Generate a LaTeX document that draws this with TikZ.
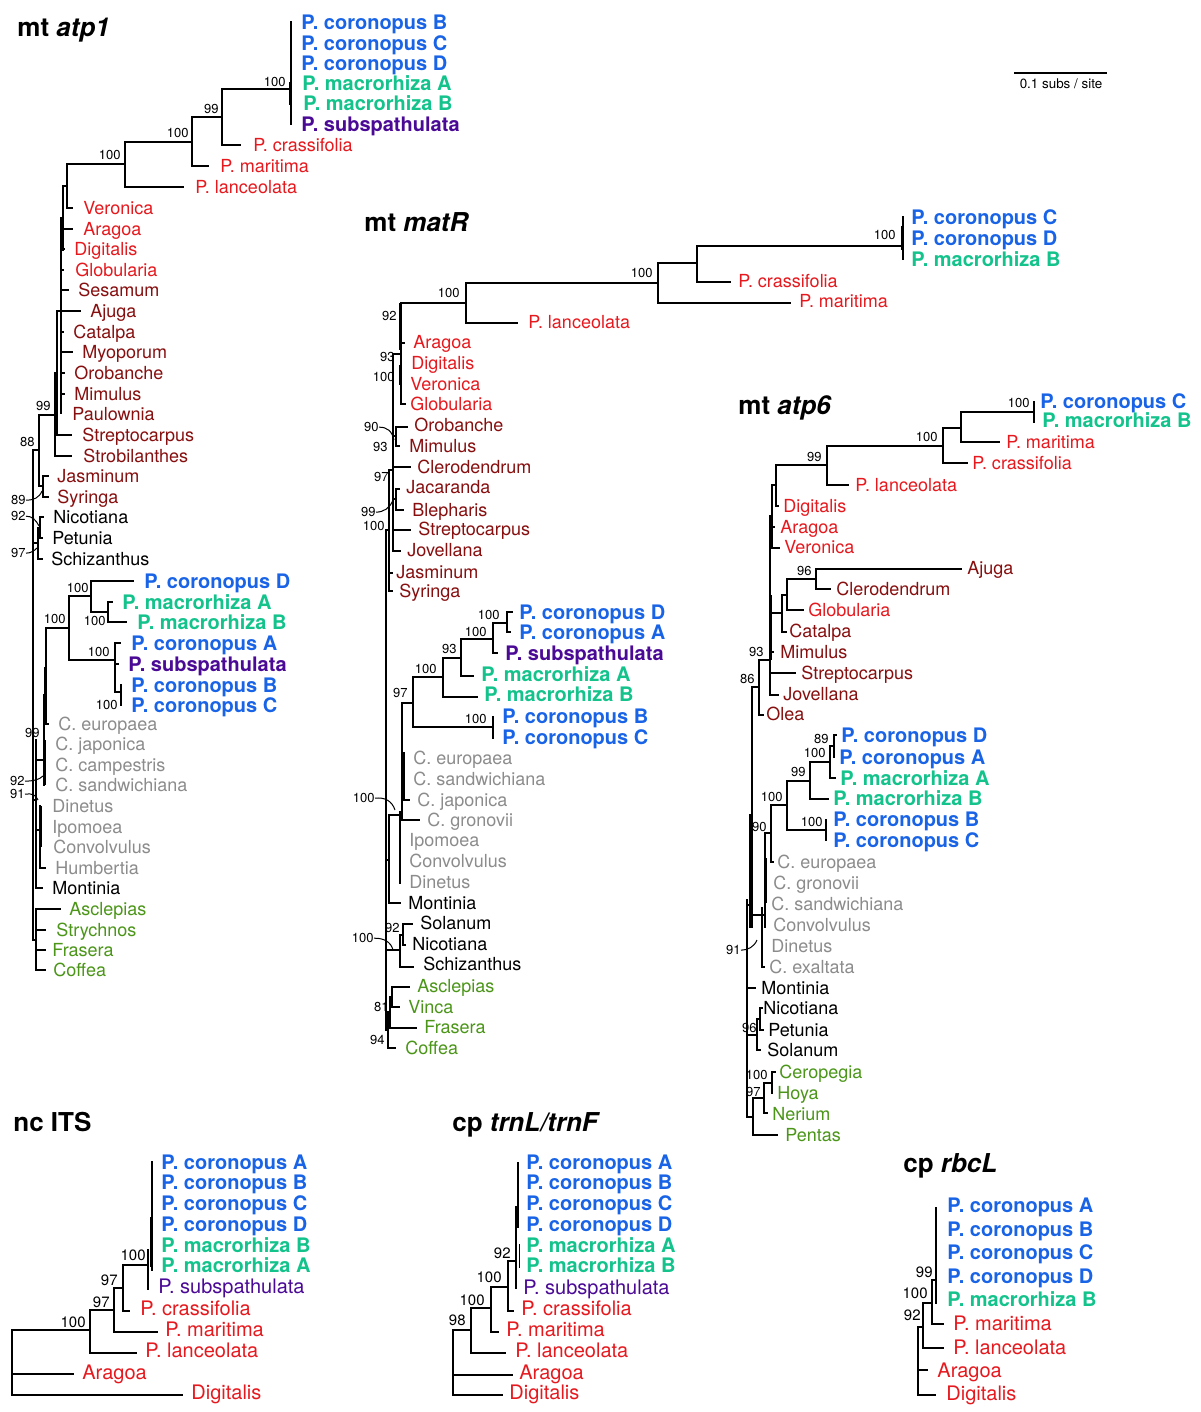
\documentclass[tikz,border=0pt]{standalone}
\usepackage{fontspec}
\setmainfont{TeX Gyre Heros}
\definecolor{cblue}{RGB}{25,100,230}
\definecolor{cgreen}{RGB}{20,195,140}
\definecolor{cpurple}{RGB}{75,10,150}
\definecolor{cred}{RGB}{230,25,30}
\definecolor{cdred}{RGB}{135,15,15}
\definecolor{cgray}{RGB}{140,140,140}
\definecolor{cgreentwo}{RGB}{75,150,25}
\newcounter{nd}
\newcommand\brH[3]{\draw[br] (#2,#1) -- (#3,#1);}
\newcommand\brV[3]{\draw[br] (#1,#2) -- (#1,#3);}
\newcommand\brT[3]{\draw[brt] (#1,#2) -- (#1,#3);}
\newcommand\Lf[4]{\stepcounter{nd}\node[#3] (lf\thend) at (#1,#2) {#4};}
\newcommand\Bs[3]{\stepcounter{nd}\node[Bsb] (bs\thend) at (#1,#2) {#3};}
\newcommand\Bt[3]{\stepcounter{nd}\node[Bss] (bt\thend) at (#1,#2) {#3};}
\newcommand\BsN[4]{\node[Bsb] (#1) at (#2,#3) {#4};}
\tikzset{
  br/.style={line width=0.7pt, line cap=rect},
  brt/.style={line width=1.5pt},
  ld/.style={line width=0.5pt},
  Lbase/.style={anchor=base west, inner sep=0pt},
  Lreg/.style={Lbase, font=\fontsize{9}{10}\selectfont, yshift=-3.25pt},
  Lbold/.style={Lbase, font=\fontsize{10}{11}\selectfont\bfseries, yshift=-3.6pt},
  Lcor/.style={Lbold, text=cblue},
  Lmac/.style={Lbold, text=cgreen},
  Lsub/.style={Lbold, text=cpurple},
  Lrd/.style={Lreg, text=cred},
  Ldr/.style={Lreg, text=cdred},
  Lgy/.style={Lreg, text=cgray},
  Lgn/.style={Lreg, text=cgreentwo},
  Lbk/.style={Lreg, text=black},
  Sreg/.style={Lbase, font=\fontsize{10}{11}\selectfont, yshift=-3.6pt},
  Scor/.style={Lbold, text=cblue},
  Smac/.style={Lbold, text=cgreen},
  Ssub/.style={Sreg, text=cpurple},
  Srd/.style={Sreg, text=cred},
  Bsb/.style={anchor=base east, inner sep=0pt, font=\fontsize{6.5}{7}\selectfont, yshift=-2.35pt},
  Bss/.style={anchor=base east, inner sep=0pt, font=\fontsize{7.5}{8}\selectfont, yshift=-2.7pt},
  Ttl/.style={anchor=base west, inner sep=0pt, font=\fontsize{13}{14}\selectfont\bfseries, yshift=-4.7pt},
}
\begin{document}
\begin{tikzpicture}[x=0.5pt,y=-0.5pt]
\useasboundingbox (0,0) rectangle (1200,1412);
\fill[white] (0,0) rectangle (1200,1412);

%%%%%%%%%%%%%%%% mt atp1
\node[Ttl] (t1) at (17,27) {mt \textit{atp1}};
\brV{291}{22}{124}
\brT{290}{82}{105}
\Lf{301}{22}{Lcor}{P. coronopus B}
\Lf{301}{43}{Lcor}{P. coronopus C}
\Lf{301}{63}{Lcor}{P. coronopus D}
\Lf{302}{83}{Lmac}{P. macrorhiza A}
\Lf{303}{103}{Lmac}{P. macrorhiza B}
\Lf{301}{124}{Lsub}{P. subspathulata}
\brH{89}{222}{291}
\Bs{286}{82}{100}
\brV{222}{89}{145}
\brH{145}{222}{240}
\Lf{253}{145}{Lrd}{P. crassifolia}
\Bs{219}{109}{99}
\brH{117}{192}{222}
\brV{192}{117}{166}
\brH{166}{192}{208}
\Lf{220}{166}{Lrd}{P. maritima}
\Bs{189}{133}{100}
\brH{142}{125}{192}
\brV{125}{142}{187}
\brH{187}{125}{183}
\Lf{195}{187}{Lrd}{P. lanceolata}
\Bs{121}{155}{100}
\brH{164}{67}{125}
\brV{67}{164}{208}
\brH{208}{67}{72}
\Lf{83}{208}{Lrd}{Veronica}
\brV{63}{186}{250}
\brH{186}{63}{67}
\brV{61}{218}{413}
\brH{229}{63}{72}
\Lf{83}{229}{Lrd}{Aragoa}
\brH{249}{61}{64}
\Lf{74}{249}{Lrd}{Digitalis}
\brH{270}{61}{63}
\Lf{75}{270}{Lrd}{Globularia}
\brH{290}{61}{68}
\Lf{78}{290}{Ldr}{Sesamum}
\brH{311}{57}{80}
\Lf{90}{311}{Ldr}{Ajuga}
\brH{332}{61}{63}
\Lf{73}{332}{Ldr}{Catalpa}
\brH{352}{61}{72}
\Lf{82}{352}{Ldr}{Myoporum}
\brH{373}{61}{64}
\Lf{74}{373}{Ldr}{Orobanche}
\brH{394}{61}{64}
\Lf{74}{394}{Ldr}{Mimulus}
\Lf{72}{414}{Ldr}{Paulownia}
\brV{57}{311}{435}
\brH{435}{57}{71}
\Lf{82}{435}{Ldr}{Streptocarpus}
\brV{55}{373}{456}
\brH{456}{55}{71}
\Lf{83}{456}{Ldr}{Strobilanthes}
\brH{415}{39}{55}
\Bs{51}{406}{99}
\brV{39}{415}{486}
\brH{450}{33}{39}
\Bs{35}{442}{88}
\brV{43}{476}{497}
\brH{476}{43}{48}
\brH{497}{43}{48}
\brH{486}{39}{43}
\Lf{57}{476}{Ldr}{Jasminum}
\Lf{57}{497}{Ldr}{Syringa}
\BsN{a1b89}{26}{500}{89}
\draw[ld] (a1b89.east) .. controls (34,500) and (39,498) .. (42,491);
\brV{40}{517}{538}
\brH{517}{40}{43}
\brH{538}{40}{42}
\brV{38}{528}{559}
\brH{528}{38}{40}
\brH{559}{38}{42}
\brH{543}{33}{38}
\Lf{53}{517}{Lbk}{Nicotiana}
\Lf{52}{538}{Lbk}{Petunia}
\Lf{51}{559}{Lbk}{Schizanthus}
\BsN{a1b92}{26}{516}{92}
\draw[ld] (a1b92.east) .. controls (32,516) and (36,520) .. (39,526);
\BsN{a1b97}{26}{553}{97}
\draw[ld] (a1b97.east) .. controls (31,553) and (34,551) .. (37,548);
% Plantago clade 2
\brH{628}{46}{69}
\Bs{66}{619}{100}
\brV{69}{596}{660}
\brH{596}{69}{91}
\Bs{89}{588}{100}
\brV{91}{581}{612}
\brH{581}{91}{133}
\Lf{144}{581}{Lcor}{P. coronopus D}
\brH{612}{91}{108}
\brV{108}{602}{622}
\brH{602}{108}{112}
\Lf{122}{602}{Lmac}{P. macrorhiza A}
\brH{622}{108}{126}
\Lf{137}{622}{Lmac}{P. macrorhiza B}
\Bs{106}{621}{100}
\brH{660}{69}{115}
\Bs{110}{652}{100}
\brV{115}{643}{692}
\brH{643}{115}{120}
\Lf{131}{643}{Lcor}{P. coronopus A}
\brH{664}{115}{118}
\Lf{128}{664}{Lsub}{P. subspathulata}
\brH{692}{115}{121}
\brV{121}{685}{705}
\Lf{131}{685}{Lcor}{P. coronopus B}
\Lf{131}{705}{Lcor}{P. coronopus C}
\Bs{118}{705}{100}
% Cuscuta etc.
\brV{46}{628}{724}
\brT{45.5}{667}{724}
\brH{724}{45}{48}
\brV{44}{695}{785}
\brT{44}{740}{785}
\brH{695}{44}{46}
\Lf{58}{724}{Lgy}{C. europaea}
\Lf{55}{744}{Lgy}{C. japonica}
\Lf{55}{765}{Lgy}{C. campestris}
\Lf{55}{785}{Lgy}{C. sandwichiana}
\Bs{40}{733}{99}
\brH{760}{36}{44}
\BsN{a1c92}{25}{781}{92}
\draw[ld] (a1c92.east) .. controls (33,781) and (39,780) .. (43,776);
\BsN{a1c91}{25}{794}{91}
\draw[ld] (a1c91.east) .. controls (32,793) and (36,795) .. (38,800);
\brV{40}{806}{868}
\brT{40.5}{806}{847}
\brH{868}{40}{45}
\brH{830}{36}{40}
\Lf{52}{806}{Lgy}{Dinetus}
\Lf{52}{827}{Lgy}{Ipomoea}
\Lf{53}{847}{Lgy}{Convolvulus}
\Lf{55}{868}{Lgy}{Humbertia}
\brV{36}{740}{888}
\brH{888}{36}{42}
\Lf{52}{888}{Lbk}{Montinia}
\brH{800}{33}{36}
\brV{36}{909}{970}
\brH{909}{36}{60}
\brH{930}{36}{45}
\brH{950}{36}{45}
\brH{970}{36}{45}
\brH{940}{33}{36}
\Lf{69}{909}{Lgn}{Asclepias}
\Lf{56}{930}{Lgn}{Strychnos}
\Lf{52}{950}{Lgn}{Frasera}
\Lf{53}{970}{Lgn}{Coffea}
\brV{33}{450}{940}
% scale bar
\draw[br] (1015,73) -- (1106,73);
\node[inner sep=0pt, font=\fontsize{6.7}{7}\selectfont] (scl) at (1061,84) {0.1 subs / site};

%%%%%%%%%%%%%%%% mt matR
\node[Ttl] (t2) at (364,222) {mt \textit{matR}};
\brV{903}{217}{259}
\brT{902.5}{226}{250}
\Lf{911}{217}{Lcor}{P. coronopus C}
\Lf{911}{238}{Lcor}{P. coronopus D}
\Lf{911}{259}{Lmac}{P. macrorhiza B}
\Bs{896}{235}{100}
\brH{246}{697}{903}
\brV{697}{246}{282}
\brH{282}{697}{730}
\Lf{738}{281}{Lrd}{P. crassifolia}
\brH{263}{658}{697}
\Bs{653}{273}{100}
\brV{658}{263}{303}
\brH{303}{658}{790}
\Lf{799}{301}{Lrd}{P. maritima}
\brH{283}{466}{658}
\Bs{460}{293}{100}
\brV{466}{283}{323}
\brH{323}{466}{517}
\Lf{528}{322}{Lrd}{P. lanceolata}
\brH{303}{401}{466}
\Bs{397}{316}{92}
\brV{401}{303}{404}
\brT{400.5}{303}{350}
\brT{400.5}{365}{385}
\brH{343}{401}{404}
\Lf{413}{342}{Lrd}{Aragoa}
\Lf{411}{363}{Lrd}{Digitalis}
\Bs{395}{357}{93}
\Lf{410}{384}{Lrd}{Veronica}
\Bs{395}{377}{100}
\brH{404}{401}{405}
\Lf{410}{404}{Lrd}{Globularia}
\brH{354}{393}{401}
\brV{393}{354}{551}
\brV{396}{427}{446}
\brH{427}{396}{407}
\brH{446}{396}{399}
\brH{436}{393}{396}
\Lf{414}{425}{Ldr}{Orobanche}
\Lf{409}{446}{Ldr}{Mimulus}
\BsN{m90}{379}{427}{90}
\draw[ld] (m90.east) .. controls (387,427) and (392,431) .. (394,440);
\Bs{388}{447}{93}
\brH{467}{393}{410}
\Lf{417}{467}{Ldr}{Clerodendrum}
\brV{396}{489}{510}
\brH{489}{396}{399}
\brH{510}{396}{403}
\brH{499}{393}{396}
\Lf{406}{487}{Ldr}{Jacaranda}
\Lf{412}{510}{Ldr}{Blepharis}
\Bs{389}{477}{97}
\BsN{m99}{376}{512}{99}
\draw[ld] (m99.east) .. controls (384,512) and (390,508) .. (393,500);
\Bs{385}{526}{100}
\brH{530}{393}{410}
\Lf{418}{529}{Ldr}{Streptocarpus}
\brH{551}{393}{400}
\Lf{407}{550}{Ldr}{Jovellana}
\brV{389}{470}{591}
\brH{470}{389}{393}
\brH{573}{389}{392}
\brH{591}{389}{392}
\Lf{396}{572}{Ldr}{Jasminum}
\Lf{399}{591}{Ldr}{Syringa}
\brV{386}{530}{1030}
\brH{530}{386}{389}
% Plantago clade 2
\brV{507}{612}{632}
\brH{612}{507}{512}
\brH{632}{507}{510}
\Lf{519}{612}{Lcor}{P. coronopus D}
\Lf{519}{632}{Lcor}{P. coronopus A}
\Bs{500}{615}{100}
\brH{623}{493}{507}
\brV{493}{623}{653}
\Bs{487}{632}{100}
\brH{653}{493}{497}
\Lf{505}{653}{Lsub}{P. subspathulata}
\brH{639}{461}{493}
\brV{461}{639}{676}
\Bs{457}{649}{93}
\brH{676}{461}{473}
\Lf{481}{674}{Lmac}{P. macrorhiza A}
\brH{658}{443}{461}
\brV{443}{658}{697}
\Bs{437}{669}{100}
\brH{697}{443}{477}
\Lf{484}{694}{Lmac}{P. macrorhiza B}
\brH{677}{413}{443}
\brV{413}{677}{727}
\Bs{408}{693}{97}
\brH{727}{413}{493}
\brV{493}{717}{738}
\Bs{487}{719}{100}
\Lf{502}{716}{Lcor}{P. coronopus B}
\Lf{502}{737}{Lcor}{P. coronopus C}
\brH{703}{402}{413}
\brV{402}{703}{820}
\brT{403}{752}{800}
\brH{800}{402}{409}
\brH{820}{402}{419}
\Lf{413}{758}{Lgy}{C. europaea}
\Lf{413}{779}{Lgy}{C. sandwichiana}
\Lf{417}{800}{Lgy}{C. japonica}
\Lf{427}{820}{Lgy}{C. gronovii}
\brV{400}{812}{883}
\brH{812}{400}{402}
\Lf{409}{840}{Lgy}{Ipomoea}
\Lf{409}{861}{Lgy}{Convolvulus}
\Lf{409}{882}{Lgy}{Dinetus}
\BsN{m100}{375}{798}{100}
\draw[ld] (m100.east) .. controls (385,797) and (392,801) .. (395,810);
\brV{389}{815}{903}
\brH{815}{389}{400}
\brH{903}{389}{400}
\Lf{408}{903}{Lbk}{Montinia}
\brH{860}{386}{389}
\brV{403}{924}{945}
\brH{924}{403}{412}
\brH{945}{403}{405}
\Lf{420}{923}{Lbk}{Solanum}
\Lf{412}{944}{Lbk}{Nicotiana}
\brV{400}{935}{967}
\brH{935}{400}{403}
\brH{967}{400}{413}
\Lf{423}{964}{Lbk}{Schizanthus}
\Bs{400}{928}{92}
\BsN{m100b}{374}{938}{100}
\draw[ld] (m100b.east) .. controls (384,938) and (391,942) .. (393,950);
\brH{950}{386}{400}
\brV{392}{987}{1007}
\brH{987}{392}{409}
\brH{1007}{392}{399}
\Lf{417}{986}{Lgn}{Asclepias}
\Lf{408}{1007}{Lgn}{Vinca}
\brV{390}{997}{1028}
\brH{997}{390}{392}
\brH{1028}{390}{416}
\Lf{424}{1027}{Lgn}{Frasera}
\brV{388}{1012}{1048}
\brH{1012}{388}{390}
\brH{1048}{388}{395}
\Lf{405}{1048}{Lgn}{Coffea}
\Bs{389}{1007}{81}
\Bs{385}{1040}{94}
\brH{1030}{386}{388}

%%%%%%%%%%%%%%%% mt atp6
\node[Ttl] (t3) at (738,405) {mt \textit{atp6}};
\brV{1034}{402}{422}
\Lf{1040}{401}{Lcor}{P. coronopus C}
\Lf{1042}{420}{Lmac}{P. macrorhiza B}
\Bs{1030}{403}{100}
\brH{412}{961}{1034}
\brV{961}{412}{442}
\brH{442}{961}{999}
\Lf{1006}{442}{Lrd}{P. maritima}
\Bs{938}{437}{100}
\brH{428}{943}{961}
\brV{943}{428}{463}
\brH{463}{943}{967}
\Lf{972}{463}{Lrd}{P. crassifolia}
\Bs{822}{457}{99}
\brH{446}{827}{943}
\brV{827}{446}{485}
\brH{485}{827}{848}
\Lf{855}{485}{Lrd}{P. lanceolata}
\brH{465}{776}{827}
\brV{776}{465}{506}
\brH{506}{776}{778}
\Lf{783}{506}{Lrd}{Digitalis}
\brV{772}{485}{548}
\brH{485}{772}{776}
\brH{527}{772}{774}
\Lf{780}{527}{Lrd}{Aragoa}
\brH{548}{772}{779}
\Lf{784}{547}{Lrd}{Veronica}
\brV{770}{516}{695}
\brT{770}{595}{660}
\brH{516}{770}{772}
\brH{569}{816}{961}
\Lf{967}{568}{Ldr}{Ajuga}
\brV{816}{569}{589}
\brH{589}{816}{830}
\Lf{836}{589}{Ldr}{Clerodendrum}
\Bs{812}{571}{96}
\brH{579}{787}{816}
\brV{787}{579}{610}
\brH{610}{787}{803}
\Lf{808}{610}{Lrd}{Globularia}
\brH{595}{782}{787}
\brV{782}{595}{632}
\brH{632}{782}{786}
\Lf{789}{631}{Ldr}{Catalpa}
\brH{613}{770}{782}
\brH{652}{770}{773}
\Lf{780}{652}{Ldr}{Mimulus}
\Bs{764}{652}{93}
\brH{673}{770}{795}
\Lf{801}{673}{Ldr}{Streptocarpus}
\brH{695}{770}{778}
\Lf{783}{694}{Ldr}{Jovellana}
\brH{660}{759}{770}
\brV{759}{660}{715}
\Bs{755}{679}{86}
\brH{715}{759}{763}
\Lf{766}{714}{Ldr}{Olea}
\brH{687}{752}{759}
\brV{752}{687}{927}
\brV{750}{815}{927}
% Plantago clade 2
\brV{834}{735}{757}
\brH{735}{834}{836}
\Lf{841}{735}{Lcor}{P. coronopus D}
\Lf{839}{757}{Lcor}{P. coronopus A}
\Bs{829}{739}{89}
\brH{746}{830}{834}
\brV{830}{746}{778}
\brH{778}{830}{835}
\Lf{840}{778}{Lmac}{P. macrorhiza A}
\Bs{826}{753}{100}
\brH{762}{810}{830}
\brV{810}{762}{799}
\brH{799}{810}{828}
\Lf{833}{798}{Lmac}{P. macrorhiza B}
\Bs{806}{772}{99}
\brH{781}{787}{810}
\brV{787}{781}{830}
\Bs{783}{797}{100}
\brH{830}{787}{826}
\brV{826}{820}{840}
\Bs{823}{822}{100}
\Lf{833}{819}{Lcor}{P. coronopus B}
\Lf{833}{840}{Lcor}{P. coronopus C}
\brH{805}{771}{787}
\Bs{767}{827}{90}
\brV{771}{805}{862}
\brH{862}{771}{773}
\Lf{777}{862}{Lgy}{C. europaea}
\brV{765}{833}{927}
\brT{765}{858}{903}
\brH{833}{765}{771}
\Lf{773}{883}{Lgy}{C. gronovii}
\Lf{771}{904}{Lgy}{C. sandwichiana}
\Lf{773}{925}{Lgy}{Convolvulus}
\Lf{771}{946}{Lgy}{Dinetus}
\brV{762}{908}{967}
\brH{967}{762}{764}
\Lf{769}{967}{Lgy}{C. exaltata}
\brH{915}{752}{765}
\BsN{p91}{741}{950}{91}
\draw[ld] (p91.east) .. controls (748,950) and (754,947) .. (757,940);
\brH{905}{747}{750}
\brV{747}{900}{1117}
\brH{988}{747}{755}
\Lf{761}{988}{Lbk}{Montinia}
\brV{760}{1008}{1030}
\brH{1008}{760}{762}
\brH{1030}{760}{763}
\Lf{763}{1008}{Lbk}{Nicotiana}
\Lf{768}{1030}{Lbk}{Petunia}
\brV{757}{1019}{1050}
\brH{1019}{757}{760}
\brH{1050}{757}{760}
\Lf{767}{1050}{Lbk}{Solanum}
\brH{1035}{747}{757}
\Bs{757}{1028}{96}
\brV{772}{1072}{1093}
\brH{1072}{772}{775}
\Lf{779}{1072}{Lgn}{Ceropegia}
\Lf{777}{1093}{Lgn}{Hoya}
\Bs{768}{1075}{100}
\brH{1083}{764}{772}
\brV{764}{1083}{1113}
\brH{1113}{764}{767}
\Lf{772}{1114}{Lgn}{Nerium}
\Bs{761}{1092}{97}
\brH{1098}{753}{764}
\brV{753}{1098}{1135}
\brH{1135}{753}{777}
\Lf{785}{1135}{Lgn}{Pentas}
\brH{1117}{747}{753}

%%%%%%%%%%%%%%%% nc ITS
\node[Ttl] (t4) at (13,1122) {nc ITS};
\brV{152}{1162}{1270}
\brT{151.5}{1217}{1267}
\brV{148}{1250}{1289}
\Lf{161}{1162}{Scor}{P. coronopus A}
\Lf{161}{1182}{Scor}{P. coronopus B}
\Lf{161}{1203}{Scor}{P. coronopus C}
\Lf{161}{1224}{Scor}{P. coronopus D}
\Lf{161}{1245}{Smac}{P. macrorhiza B}
\Lf{161}{1265}{Smac}{P. macrorhiza A}
\Lf{158}{1286}{Ssub}{P. subspathulata}
\Lf{140}{1308}{Srd}{P. crassifolia}
\Lf{165}{1329}{Srd}{P. maritima}
\Lf{145}{1350}{Srd}{P. lanceolata}
\Lf{82}{1372}{Srd}{Aragoa}
\Lf{191}{1392}{Srd}{Digitalis}
\Bt{146}{1255}{100}
\brH{1265}{123}{148}
\brV{123}{1265}{1311}
\brH{1311}{123}{129}
\Bt{118}{1280}{97}
\brH{1288}{114}{123}
\brV{114}{1288}{1332}
\brH{1332}{114}{157}
\Bt{110}{1302}{97}
\brH{1310}{90}{114}
\brV{90}{1310}{1353}
\brH{1353}{90}{136}
\Bt{86}{1322}{100}
\brH{1330}{12}{90}
\brV{12}{1330}{1395}
\brH{1374}{12}{73}
\brH{1395}{12}{182}

%%%%%%%%%%%%%%%% cp trnL/trnF
\node[Ttl] (t5) at (452,1122) {cp \textit{trnL/trnF}};
\brV{518}{1163}{1227}
\brV{516}{1207}{1288}
\brV{519.5}{1245}{1267}
\Lf{526}{1162}{Scor}{P. coronopus A}
\Lf{526}{1182}{Scor}{P. coronopus B}
\Lf{526}{1203}{Scor}{P. coronopus C}
\Lf{526}{1224}{Scor}{P. coronopus D}
\Lf{526}{1245}{Smac}{P. macrorhiza A}
\Lf{526}{1265}{Smac}{P. macrorhiza B}
\Lf{523}{1287}{Ssub}{P. subspathulata}
\Lf{521}{1308}{Srd}{P. crassifolia}
\Lf{506}{1329}{Srd}{P. maritima}
\Lf{515}{1350}{Srd}{P. lanceolata}
\Lf{519}{1372}{Srd}{Aragoa}
\Lf{509}{1392}{Srd}{Digitalis}
\Bt{511}{1253}{92}
\brH{1261}{508}{516}
\brV{508}{1261}{1311}
\brH{1311}{508}{513}
\Bt{502}{1277}{100}
\brH{1287}{491}{508}
\brV{491}{1287}{1332}
\brH{1332}{491}{498}
\Bt{485}{1300}{100}
\brH{1308}{471}{491}
\brV{471}{1308}{1353}
\brH{1353}{471}{505}
\Bt{466}{1320}{98}
\brH{1330}{453}{471}
\brV{453}{1330}{1395}
\brH{1375}{453}{512}
\brH{1395}{453}{502}

%%%%%%%%%%%%%%%% cp rbcL
\node[Ttl] (t6) at (903,1163) {cp \textit{rbcL}};
\brV{936}{1208}{1303}
\Lf{947}{1205}{Scor}{P. coronopus A}
\Lf{947}{1229}{Scor}{P. coronopus B}
\Lf{947}{1252}{Scor}{P. coronopus C}
\Lf{947}{1276}{Scor}{P. coronopus D}
\Lf{947}{1299}{Smac}{P. macrorhiza B}
\Lf{953}{1323}{Srd}{P. maritima}
\Lf{953}{1347}{Srd}{P. lanceolata}
\Lf{937}{1370}{Srd}{Aragoa}
\Lf{946}{1393}{Srd}{Digitalis}
\Bt{933}{1272}{99}
\brH{1280}{932}{936}
\brV{932}{1280}{1324}
\brH{1324}{932}{943}
\Bt{928}{1293}{100}
\brH{1303}{923}{932}
\brV{923}{1303}{1348}
\brH{1348}{923}{943}
\Bt{921}{1315}{92}
\brH{1327}{918}{923}
\brV{918}{1327}{1395}
\brH{1370}{918}{927}
\brH{1395}{918}{935}
\end{tikzpicture}
\end{document}
